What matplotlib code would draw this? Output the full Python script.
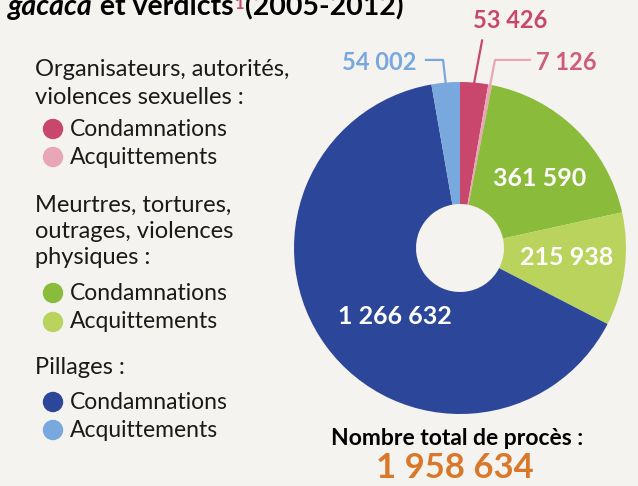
import numpy as np
import matplotlib.pyplot as plt
from matplotlib.patches import Ellipse

# data
categories = ['Organisateurs - Condamnations', 'Organisateurs - Acquittements',
              'Meurtres - Condamnations', 'Meurtres - Acquittements',
              'Pillages - Condamnations', 'Pillages - Acquittements']
values = [53426, 7126, 361590, 215938, 1266632, 54002]
value_labels = ['53 426', '7 126', '361 590', '215 938', '1 266 632', '54 002']
colors = ['#C9476D', '#E8A6B6', '#8BBB3B', '#B9D35C', '#2C4799', '#79A8DE']
total_label = '1 958 634'

groups = ['Organisateurs, autorités,\nviolences sexuelles :',
          'Meurtres, tortures,\noutrages, violences\nphysiques :',
          'Pillages :']
legend_items = ['Condamnations', 'Acquittements']

bg = '#F4F3EF'
W, H = 638, 486
plt.rcParams['font.family'] = ['Lato', 'DejaVu Sans']

fig = plt.figure(figsize=(W / 100, H / 100), dpi=100)
fig.patch.set_facecolor(bg)


def fx(px):
    return px / W


def fy(py):
    return 1 - py / H


# donut
cx, cy, r = 460, 248, 166
ax = fig.add_axes([fx(cx - r), fy(cy + r), 2 * r / W, 2 * r / H])
ax.set_facecolor(bg)
wedges, _ = ax.pie(values, colors=colors, startangle=90, counterclock=False,
                   radius=1, wedgeprops=dict(width=0.735, linewidth=0))
ax.set_xlim(-1, 1)
ax.set_ylim(-1, 1)
ax.set_aspect('equal')
ax.axis('off')

# inside labels
inside = {2: (0.48, 0.42), 3: (0.645, -0.06), 4: (-0.39, -0.415)}
for i, (lx, ly) in inside.items():
    ax.text(lx, ly, value_labels[i], color='white', fontsize=18,
            fontweight='bold', ha='center', va='center')

# outside labels with leader lines


def mid_point(w):
    a = np.deg2rad((w.theta1 + w.theta2) / 2)
    return np.cos(a), np.sin(a)


x0, y0 = mid_point(wedges[0])
ax.plot([x0, 0.133], [y0, 1.25], color=colors[0], lw=1.6, clip_on=False)
ax.text(0.30, 1.37, value_labels[0], color='#C9476D', fontsize=17,
        fontweight='bold', ha='center', va='center')

x1, y1 = mid_point(wedges[1])
ax.plot([x1, 0.211, 0.42], [y1, 1.133, 1.133], color=colors[1], lw=1.6,
        clip_on=False)
ax.text(0.46, 1.12, value_labels[1], color='#CF5C7C', fontsize=17,
        fontweight='bold', ha='left', va='center')

x5, y5 = mid_point(wedges[5])
ax.plot([x5, -0.102, -0.205], [y5, 1.133, 1.133], color=colors[5], lw=1.6,
        clip_on=False)
ax.text(-0.265, 1.12, value_labels[5], color=colors[5], fontsize=17,
        fontweight='bold', ha='right', va='center')

# title (cut at top, as in the source)
fig.canvas.draw()
renderer = fig.canvas.get_renderer()
x = fx(8)
parts = [('gacaca', 'italic', 'black', 20.5, 0, 0),
         (' et verdicts', 'normal', 'black', 20.5, 0, 1),
         ('1', 'normal', '#C9476D', 12, 6, 1),
         ('(2005-2012)', 'normal', 'black', 20.5, 0, 0)]
for txt, style, col, size, dy, gap in parts:
    t = fig.text(x, fy(15 - dy), txt, fontsize=size, fontweight='bold',
                 fontstyle=style, color=col, ha='left', va='baseline')
    bb = t.get_window_extent(renderer)
    x = (bb.x1 + gap) / W

# legend
header_y = [(70, 98), (205, 231, 257), (367,)]
item_y = [(129, 157), (293, 322), (402, 430)]
for g, (label, hy, iy) in enumerate(zip(groups, header_y, item_y)):
    for line, yy in zip(label.split('\n'), hy):
        fig.text(fx(35), fy(yy), line, fontsize=17, color='#1a1a1a',
                 ha='left', va='center')
    for k, (item, yy) in enumerate(zip(legend_items, iy)):
        fig.add_artist(Ellipse((fx(53), fy(yy)), 19 / W, 19 / H,
                               transform=fig.transFigure,
                               color=colors[2 * g + k]))
        fig.text(fx(70), fy(yy), item, fontsize=16.5, color='#1a1a1a',
                 ha='left', va='center')

# total
fig.text(fx(457), fy(438), 'Nombre total de procès :', fontsize=16.5,
         fontweight='bold', color='black', ha='center', va='center')
fig.text(fx(455), fy(468), total_label, fontsize=25, fontweight='bold',
         color='#D9782A', ha='center', va='center')

fig.savefig('out.png', dpi=100, facecolor=bg)
